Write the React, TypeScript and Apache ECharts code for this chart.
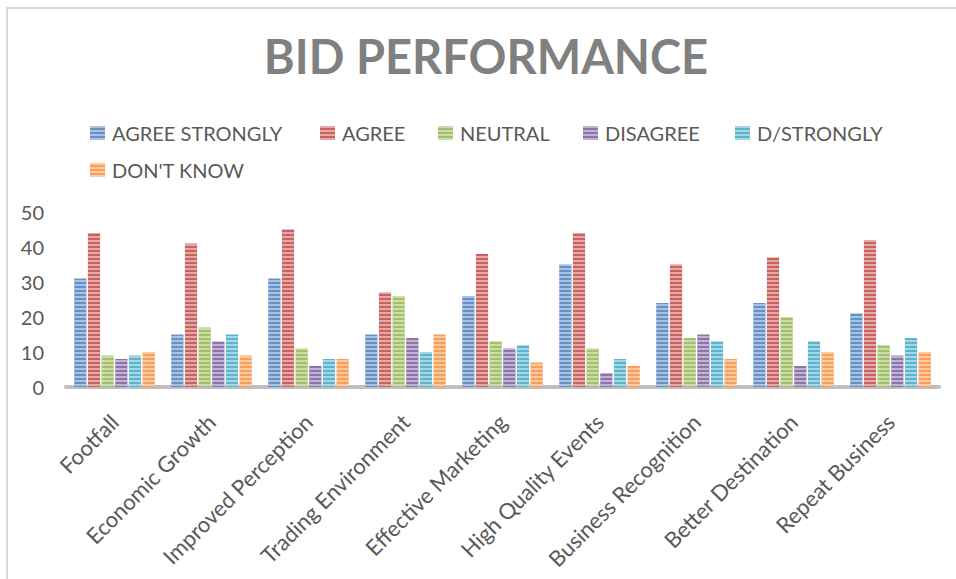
import React, { useEffect, useRef } from "react";
import * as echarts from "echarts";

const categories = [
  "Footfall",
  "Economic Growth",
  "Improved Perception",
  "Trading Environment",
  "Effective Marketing",
  "High Quality Events",
  "Business Recognition",
  "Better Destination",
  "Repeat Business",
];

const seriesNames = ["AGREE STRONGLY", "AGREE", "NEUTRAL", "DISAGREE", "D/STRONGLY", "DON'T KNOW"];

const agreeStrongly = [31, 15, 31, 15, 26, 35, 24, 24, 21];
const agree = [44, 41, 45, 27, 38, 44, 35, 37, 42];
const neutral = [9, 17, 11, 26, 13, 11, 14, 20, 12];
const disagree = [8, 13, 6, 14, 11, 4, 15, 6, 9];
const dStrongly = [9, 15, 8, 10, 12, 8, 13, 13, 14];
const dontKnow = [10, 9, 8, 15, 7, 6, 8, 10, 10];

const seriesValues = [agreeStrongly, agree, neutral, disagree, dStrongly, dontKnow];
const seriesColors = ["#6590c8", "#c9625f", "#a2c067", "#8c73ac", "#5cb4cd", "#f89e57"];

const legendPos = [
  [90, 123],
  [320, 123],
  [438, 123],
  [583, 123],
  [735, 123],
  [90, 160],
];

const FONT = "Lato";
const TEXT = "#595959";

export default function App() {
  const ref = useRef<HTMLDivElement>(null);

  useEffect(() => {
    if (!ref.current) return;
    document.body.style.margin = "0";
    document.body.style.overflow = "hidden";
    const chart = echarts.init(ref.current, undefined, { renderer: "svg" });
    const decal = {
      symbol: "rect",
      symbolSize: 1,
      dashArrayX: [1, 0],
      dashArrayY: [2, 2],
      rotation: 0,
      color: "rgba(255,255,255,0.45)",
    };
    chart.setOption({
      animation: false,
      backgroundColor: "#ffffff",
      title: {
        text: "BID PERFORMANCE",
        left: 481,
        top: 27,
        textAlign: "center",
        textStyle: { fontFamily: FONT, fontSize: 47, fontWeight: "bold", color: "#808080" },
      },
      legend: seriesNames.map((n, i) => ({
        data: [n],
        left: legendPos[i][0],
        top: legendPos[i][1],
        padding: 0,
        itemWidth: 15,
        itemHeight: 14,
        icon: "rect",
        textStyle: { fontFamily: FONT, fontSize: 20, color: TEXT, padding: [0, 0, 0, 2] },
      })),
      grid: { left: 66, right: 17, top: 212, bottom: 192, containLabel: false },
      xAxis: {
        type: "category",
        data: categories,
        axisLine: { show: true, lineStyle: { color: "#bfbfbf", width: 4 } },
        axisTick: { show: false },
        axisLabel: { rotate: 45, interval: 0, margin: 31, fontFamily: FONT, fontSize: 22, color: TEXT },
      },
      yAxis: {
        type: "value",
        min: 0,
        max: 50,
        interval: 10,
        splitLine: { show: false },
        axisLine: { show: false },
        axisTick: { show: false },
        axisLabel: { margin: 22, fontFamily: FONT, fontSize: 20, color: TEXT, padding: [7, 0, 0, 0] },
      },
      series: seriesNames.map((n, i) => ({
        name: n,
        type: "bar",
        data: seriesValues[i],
        barGap: "12%",
        barCategoryGap: "17%",
        itemStyle: { color: seriesColors[i], decal },
      })),
      graphic: [
        { type: "line", shape: { x1: 6, y1: 8, x2: 956, y2: 8 }, style: { stroke: "#d9d9d9", lineWidth: 2 } },
        { type: "line", shape: { x1: 7, y1: 7, x2: 7, y2: 579 }, style: { stroke: "#d9d9d9", lineWidth: 2 } },
      ],
    });
    return () => chart.dispose();
  }, []);

  return <div ref={ref} style={{ width: 956, height: 579, position: "absolute", left: 0, top: 0 }} />;
}
